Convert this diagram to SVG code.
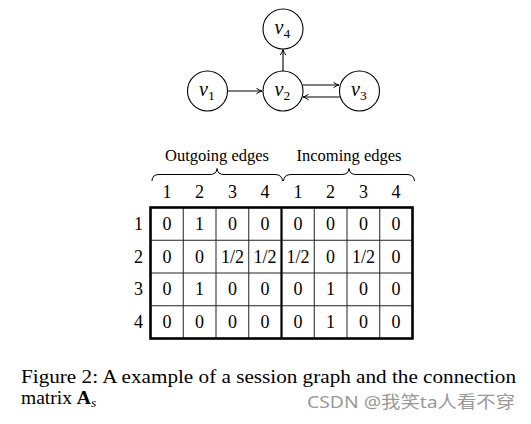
<svg xmlns="http://www.w3.org/2000/svg" width="531" height="424" viewBox="0 0 531 424">
<defs>
<style>
.node circle{fill:#fff;stroke:#000;stroke-width:1.1}
.lbl{font-style:italic;font-size:20px;fill:#000}
.sub{font-style:normal;font-size:13.5px}
.edge{stroke:#000;stroke-width:1.1;fill:none;marker-end:url(#ah)}
.t{font-size:18px;fill:#000;text-anchor:middle}
.hd{font-size:16.5px;fill:#000;text-anchor:middle}
.thin{stroke:#222;stroke-width:1}
.thick{stroke:#000;stroke-width:2.6;fill:none}
.brace{stroke:#000;stroke-width:1;fill:none}
.cap{font-size:19.5px;fill:#000}
</style>
<marker id="ah" viewBox="0 0 10 10" refX="9" refY="5" markerWidth="7" markerHeight="7" markerUnits="userSpaceOnUse" orient="auto">
<path d="M1,1 Q5,4 9,5 Q5,6 1,9" fill="none" stroke="#000" stroke-width="1.4"/>
</marker>
</defs>

<g id="connectors">
<line class="edge" x1="227.5" y1="91" x2="262" y2="91"/>
<line class="edge" x1="283" y1="71" x2="283" y2="49.5"/>
<line class="edge" x1="302.1" y1="85" x2="339" y2="85"/>
<line class="edge" x1="339.9" y1="97" x2="303" y2="97"/>
</g>

<g font-family="Liberation Serif, DejaVu Serif, serif">
<g id="v4" class="node"><circle cx="283" cy="29" r="20"/><text class="lbl" x="274.5" y="34">v<tspan class="sub" dy="4">4</tspan></text></g>
<g id="v1" class="node"><circle cx="207.5" cy="91" r="20"/><text class="lbl" x="199" y="96">v<tspan class="sub" dy="4">1</tspan></text></g>
<g id="v2" class="node"><circle cx="283" cy="91" r="20"/><text class="lbl" x="274.5" y="96">v<tspan class="sub" dy="4">2</tspan></text></g>
<g id="v3" class="node"><circle cx="359.5" cy="91" r="20"/><text class="lbl" x="351" y="96">v<tspan class="sub" dy="4">3</tspan></text></g>

<g id="braces">
<text class="hd" x="217" y="161">Outgoing edges</text>
<text class="hd" x="349" y="161">Incoming edges</text>
<path class="brace" d="M152,181 Q152,174.5 159,174.5 L210,174.5 Q216.5,174.5 217,168.5 Q217.5,174.5 224,174.5 L275,174.5 Q282,174.5 282.5,181"/>
<path class="brace" d="M283.5,181 Q284,174.5 291,174.5 L342,174.5 Q348.5,174.5 349,168.5 Q349.5,174.5 356,174.5 L407,174.5 Q414,174.5 414.5,181"/>
</g>

<g id="matrix">
<g class="t">
<text x="166.9" y="198">1</text><text x="199.6" y="198">2</text><text x="232.4" y="198">3</text><text x="265.1" y="198">4</text>
<text x="297.9" y="198">1</text><text x="330.6" y="198">2</text><text x="363.4" y="198">3</text><text x="396.1" y="198">4</text>
<text x="138.5" y="230">1</text><text x="138.5" y="262.6">2</text><text x="138.5" y="295.4">3</text><text x="138.5" y="328.1">4</text>
</g>
<g class="thin">
<line x1="183.25" y1="207.5" x2="183.25" y2="338.5"/>
<line x1="216" y1="207.5" x2="216" y2="338.5"/>
<line x1="248.75" y1="207.5" x2="248.75" y2="338.5"/>
<line x1="314.25" y1="207.5" x2="314.25" y2="338.5"/>
<line x1="347" y1="207.5" x2="347" y2="338.5"/>
<line x1="379.75" y1="207.5" x2="379.75" y2="338.5"/>
<line x1="150.5" y1="240.25" x2="412.5" y2="240.25"/>
<line x1="150.5" y1="273" x2="412.5" y2="273"/>
<line x1="150.5" y1="305.75" x2="412.5" y2="305.75"/>
</g>
<rect class="thick" x="150.5" y="207.5" width="262" height="131"/>
<line x1="281.5" y1="207.5" x2="281.5" y2="338.5" stroke="#000" stroke-width="2.2"/>
<g class="t">
<text x="166.9" y="230">0</text><text x="199.6" y="230">1</text><text x="232.4" y="230">0</text><text x="265.1" y="230">0</text>
<text x="297.9" y="230">0</text><text x="330.6" y="230">0</text><text x="363.4" y="230">0</text><text x="396.1" y="230">0</text>
<text x="166.9" y="262.6">0</text><text x="199.6" y="262.6">0</text><text x="232.4" y="262.6">1/2</text><text x="265.1" y="262.6">1/2</text>
<text x="297.9" y="262.6">1/2</text><text x="330.6" y="262.6">0</text><text x="363.4" y="262.6">1/2</text><text x="396.1" y="262.6">0</text>
<text x="166.9" y="295.4">0</text><text x="199.6" y="295.4">1</text><text x="232.4" y="295.4">0</text><text x="265.1" y="295.4">0</text>
<text x="297.9" y="295.4">0</text><text x="330.6" y="295.4">1</text><text x="363.4" y="295.4">0</text><text x="396.1" y="295.4">0</text>
<text x="166.9" y="328.1">0</text><text x="199.6" y="328.1">0</text><text x="232.4" y="328.1">0</text><text x="265.1" y="328.1">0</text>
<text x="297.9" y="328.1">0</text><text x="330.6" y="328.1">1</text><text x="363.4" y="328.1">0</text><text x="396.1" y="328.1">0</text>
</g>
</g>

<g id="caption">
<text class="cap" x="21" y="383" textLength="495" lengthAdjust="spacingAndGlyphs">Figure 2: A example of a session graph and the connection</text>
<text class="cap" x="21" y="404">matrix <tspan font-weight="bold">A</tspan><tspan font-style="italic" font-size="13.5" dy="3">s</tspan></text>
</g>
</g>
<text x="307" y="408" textLength="208" lengthAdjust="spacingAndGlyphs" font-family="Noto Sans, Noto Sans CJK SC, sans-serif" font-size="17" fill="#999">CSDN @我笑ta人看不穿</text>
</svg>
